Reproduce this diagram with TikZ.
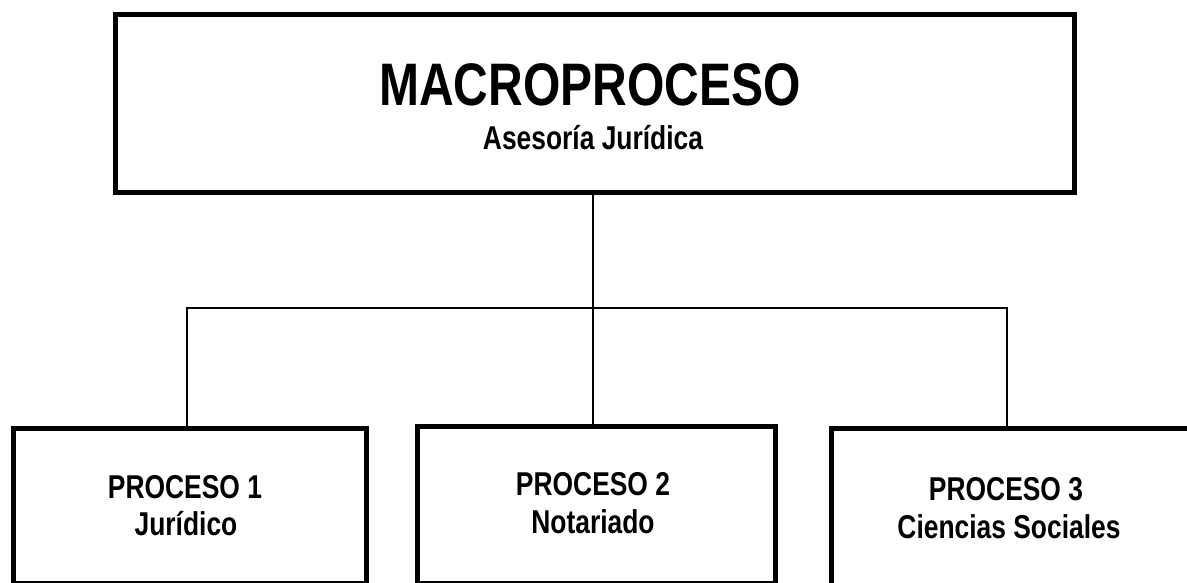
\documentclass[tikz,border=0pt]{standalone}
\usepackage{fontspec}
\setmainfont{Liberation Sans}[FakeStretch=0.8]
\begin{document}
\begin{tikzpicture}[x=1pt,y=-1pt,
  box/.style={draw=black,line width=5pt,rectangle,inner sep=0pt,anchor=north west},
  conn/.style={draw=black,line width=2.6pt},
  big/.style={font=\bfseries\fontsize{60}{66}\selectfont,anchor=base,inner sep=0pt},
  small/.style={font=\bfseries\fontsize{33}{38}\selectfont,anchor=base,inner sep=0pt},
  lbl/.style={font=\bfseries\fontsize{33}{37}\selectfont,anchor=base,inner sep=0pt}]
\useasboundingbox (0,0) rectangle (1187,583);
% boxes
\node[box,minimum width=959pt,minimum height=178pt] (top) at (113,12) {};
\node[box,minimum width=353pt,minimum height=155pt] (p1) at (10.5,425.5) {};
\node[box,minimum width=358pt,minimum height=157pt] (p2) at (414.5,423.5) {};
\node[box,minimum width=358pt,minimum height=157pt] (p3) at (828.5,425.5) {};
% texts
\node[big] (t1) at (590,106) {MACROPROCESO};
\node[small] (t2) at (593,150) {Asesoría Jurídica};
\node[lbl] (a1) at (185,498) {PROCESO 1};
\node[lbl] (a2) at (186,535) {Jurídico};
\node[lbl] (b1) at (593,495) {PROCESO 2};
\node[lbl] (b2) at (593,533) {Notariado};
\node[lbl] (c1) at (1006,500) {PROCESO 3};
\node[lbl] (c2) at (1009,538) {Ciencias Sociales};
% connectors
\coordinate (h) at (593,308);
\coordinate (hl) at (187,308);
\coordinate (hr) at (1007,308);
\draw[conn] (top.south -| h) -- (p2.north -| h);
\draw[conn] (p1.north -| hl) -- (hl) -- (hr) -- (p3.north -| hr);
\end{tikzpicture}
\end{document}
